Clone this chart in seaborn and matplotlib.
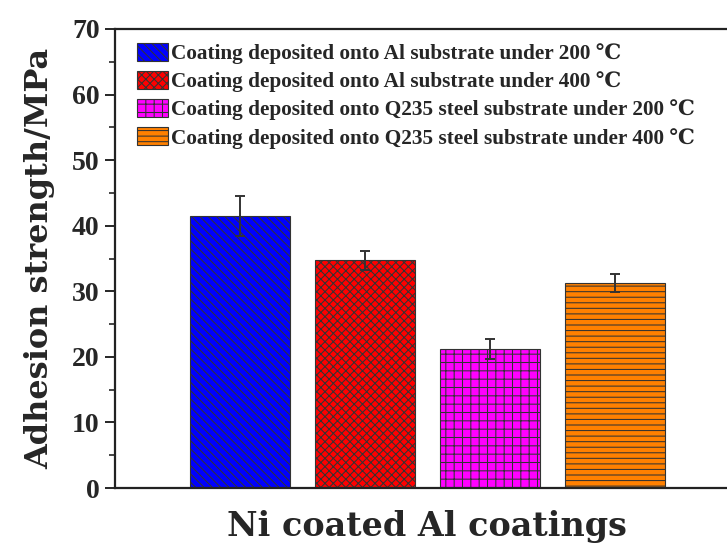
import matplotlib
matplotlib.use("Agg")
import matplotlib.pyplot as plt
import seaborn as sns
import pandas as pd
from matplotlib.ticker import MultipleLocator

labels = [
    "Coating deposited onto Al substrate under 200 \u2103",
    "Coating deposited onto Al substrate under 400 \u2103",
    "Coating deposited onto Q235 steel substrate under 200 \u2103",
    "Coating deposited onto Q235 steel substrate under 400 \u2103",
]
values = [41.5, 34.7, 21.2, 31.3]
errors = [3.1, 1.5, 1.5, 1.4]
colors = ["#0000FF", "#FF0000", "#FF00FF", "#FF8000"]
hatches = ["\\\\\\\\", "xxxx", "++", "---"]

sns.set_style("ticks")
plt.rcParams["font.family"] = ["DejaVu Serif"]
plt.rcParams["font.weight"] = "bold"
plt.rcParams["hatch.linewidth"] = 0.75
plt.rcParams["hatch.color"] = "black"

SERIF2 = ["Liberation Serif", "DejaVu Serif"]

df = pd.DataFrame({"label": labels, "value": values})

W, H = 727, 543
fig = plt.figure(figsize=(W / 100, H / 100), dpi=100)
ax = fig.add_axes([115 / W, 1 - 488 / H, (739.5 - 115) / W, (488 - 29) / H])

sns.barplot(data=df, x="label", y="value", hue="label", palette=colors,
            width=0.8, dodge=False, legend=False, ax=ax, saturation=1,
            edgecolor="#333333", linewidth=0.8, errorbar=None)
for p, h in zip(ax.patches, hatches):
    p.set_hatch(h)

ax.errorbar(range(len(values)), values, yerr=errors, fmt="none",
            ecolor="#333333", elinewidth=1.4, capsize=3.3, capthick=1.4, zorder=5)

ax.set_xlim(-1, 4)
ax.set_ylim(0, 70)
ax.yaxis.set_major_locator(MultipleLocator(10))
ax.yaxis.set_minor_locator(MultipleLocator(5))
ax.set_xticks([])
ax.tick_params(axis="y", which="major", length=7, width=1.4, direction="out", pad=4)
ax.tick_params(axis="y", which="minor", length=4, width=1.2, direction="out")
for lab in ax.get_yticklabels():
    lab.set_fontweight("bold")
    lab.set_fontfamily(SERIF2)
    lab.set_fontsize(20)

for s in ["left", "bottom", "top", "right"]:
    ax.spines[s].set_linewidth(1.6)
    ax.spines[s].set_color("#222222")

ax.set_ylabel("Adhesion strength/MPa", fontsize=23, fontweight="bold", labelpad=12)
ax.set_xlabel("Ni coated Al coatings", fontsize=24, fontweight="bold", labelpad=16)

handles = ax.patches[:4]
leg = ax.legend(handles, labels, loc="upper left",
                bbox_to_anchor=(137 / W, 1 - 43 / H), bbox_transform=fig.transFigure,
                frameon=False, handlelength=1.45, handleheight=0.9,
                handletextpad=0.15, labelspacing=0.33, borderaxespad=0,
                borderpad=0, prop={"weight": "bold", "size": 15.3, "family": SERIF2})

fig.savefig("out.png", dpi=100)
